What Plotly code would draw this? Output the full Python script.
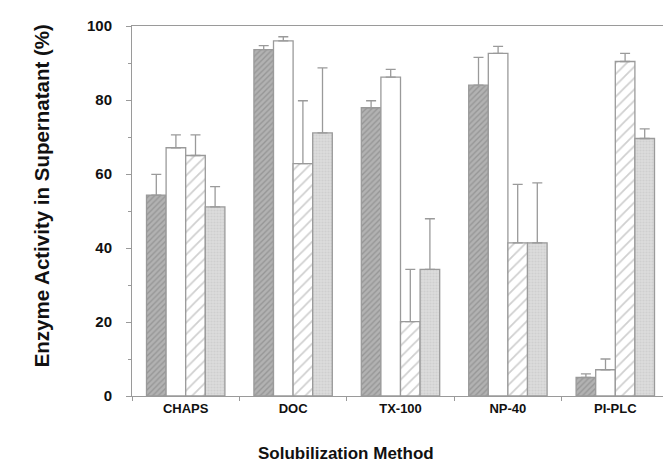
import plotly.graph_objects as go

categories = ["CHAPS", "DOC", "TX-100", "NP-40", "PI-PLC"]

# four treatment series
dark_hatched = [54.3, 93.6, 77.9, 84.0, 5.0]
dark_hatched_err = [5.6, 1.1, 1.9, 7.5, 1.0]

white_open = [67.1, 96.0, 86.2, 92.6, 7.1]
white_open_err = [3.5, 1.1, 2.1, 1.9, 2.9]

light_hatched = [65.0, 62.8, 20.1, 41.4, 90.4]
light_hatched_err = [5.6, 17.0, 14.1, 15.8, 2.2]

stippled = [51.1, 71.1, 34.2, 41.4, 69.6]
stippled_err = [5.5, 17.6, 13.7, 16.2, 2.6]

y_ticks = [0, 20, 40, 60, 80, 100]

x_title = "Solubilization Method"
y_title = "Enzyme Activity in Supernatant (%)"

EDGE = "#9a9a9a"

series = [
    ("Series A", dark_hatched, dark_hatched_err,
     dict(shape="/", bgcolor="#b2b2b2", fgcolor="#7a7a7a", size=4, solidity=0.35)),
    ("Series B", white_open, white_open_err,
     dict(shape="", bgcolor="white", fgcolor="white")),
    ("Series C", light_hatched, light_hatched_err,
     dict(shape="/", bgcolor="white", fgcolor="#a0a0a0", size=8, solidity=0.22)),
    ("Series D", stippled, stippled_err,
     dict(shape=".", bgcolor="#dcdcdc", fgcolor="#c2c2c2", size=3, solidity=0.4)),
]

fig = go.Figure()
for name, vals, errs, pat in series:
    fig.add_trace(go.Bar(
        name=name,
        x=categories,
        y=vals,
        marker=dict(color=pat["bgcolor"], line=dict(color=EDGE, width=1.3), pattern=pat),
        error_y=dict(type="data", symmetric=False, array=errs,
                     arrayminus=[0] * len(errs), color=EDGE, thickness=1.3, width=5),
        showlegend=False,
    ))

fig.update_layout(
    width=671, height=466,
    margin=dict(l=124, r=9, t=14, b=78),
    paper_bgcolor="white", plot_bgcolor="white",
    barmode="group", bargap=0.27, bargroupgap=0,
    font=dict(family="Liberation Sans, Arial", color="#111"),
)
fig.update_xaxes(
    type="category", range=[-0.5, 4.5],
    tickson="boundaries", ticks="outside", ticklen=4, tickcolor=EDGE,
    showline=True, linecolor=EDGE, linewidth=1, mirror=True,
    showgrid=False,
    tickfont=dict(size=13, weight="bold"),
)
fig.update_yaxes(
    range=[0, 100], tickvals=y_ticks,
    ticks="outside", ticklen=5, tickcolor=EDGE,
    minor=dict(dtick=10, ticks="outside", ticklen=3, tickcolor=EDGE),
    showline=True, linecolor=EDGE, linewidth=1, mirror=True,
    showgrid=False, zeroline=False,
    tickfont=dict(size=15, weight="bold"),
    ticklabelstandoff=11,
)

fig.add_annotation(
    text="<b>" + x_title + "</b>", xref="paper", yref="paper",
    x=(338 - 124) / 538, y=(388 - 446) / 374, xanchor="center", yanchor="middle",
    showarrow=False, font=dict(size=17, color="#111"),
)
fig.add_annotation(
    text="<b>" + y_title + "</b>", xref="paper", yref="paper", textangle=-90,
    x=(33 - 124) / 538, y=(388 - 186) / 374, xanchor="center", yanchor="middle",
    showarrow=False, font=dict(size=20.5, color="#111"),
)

fig.write_html("out.html")
